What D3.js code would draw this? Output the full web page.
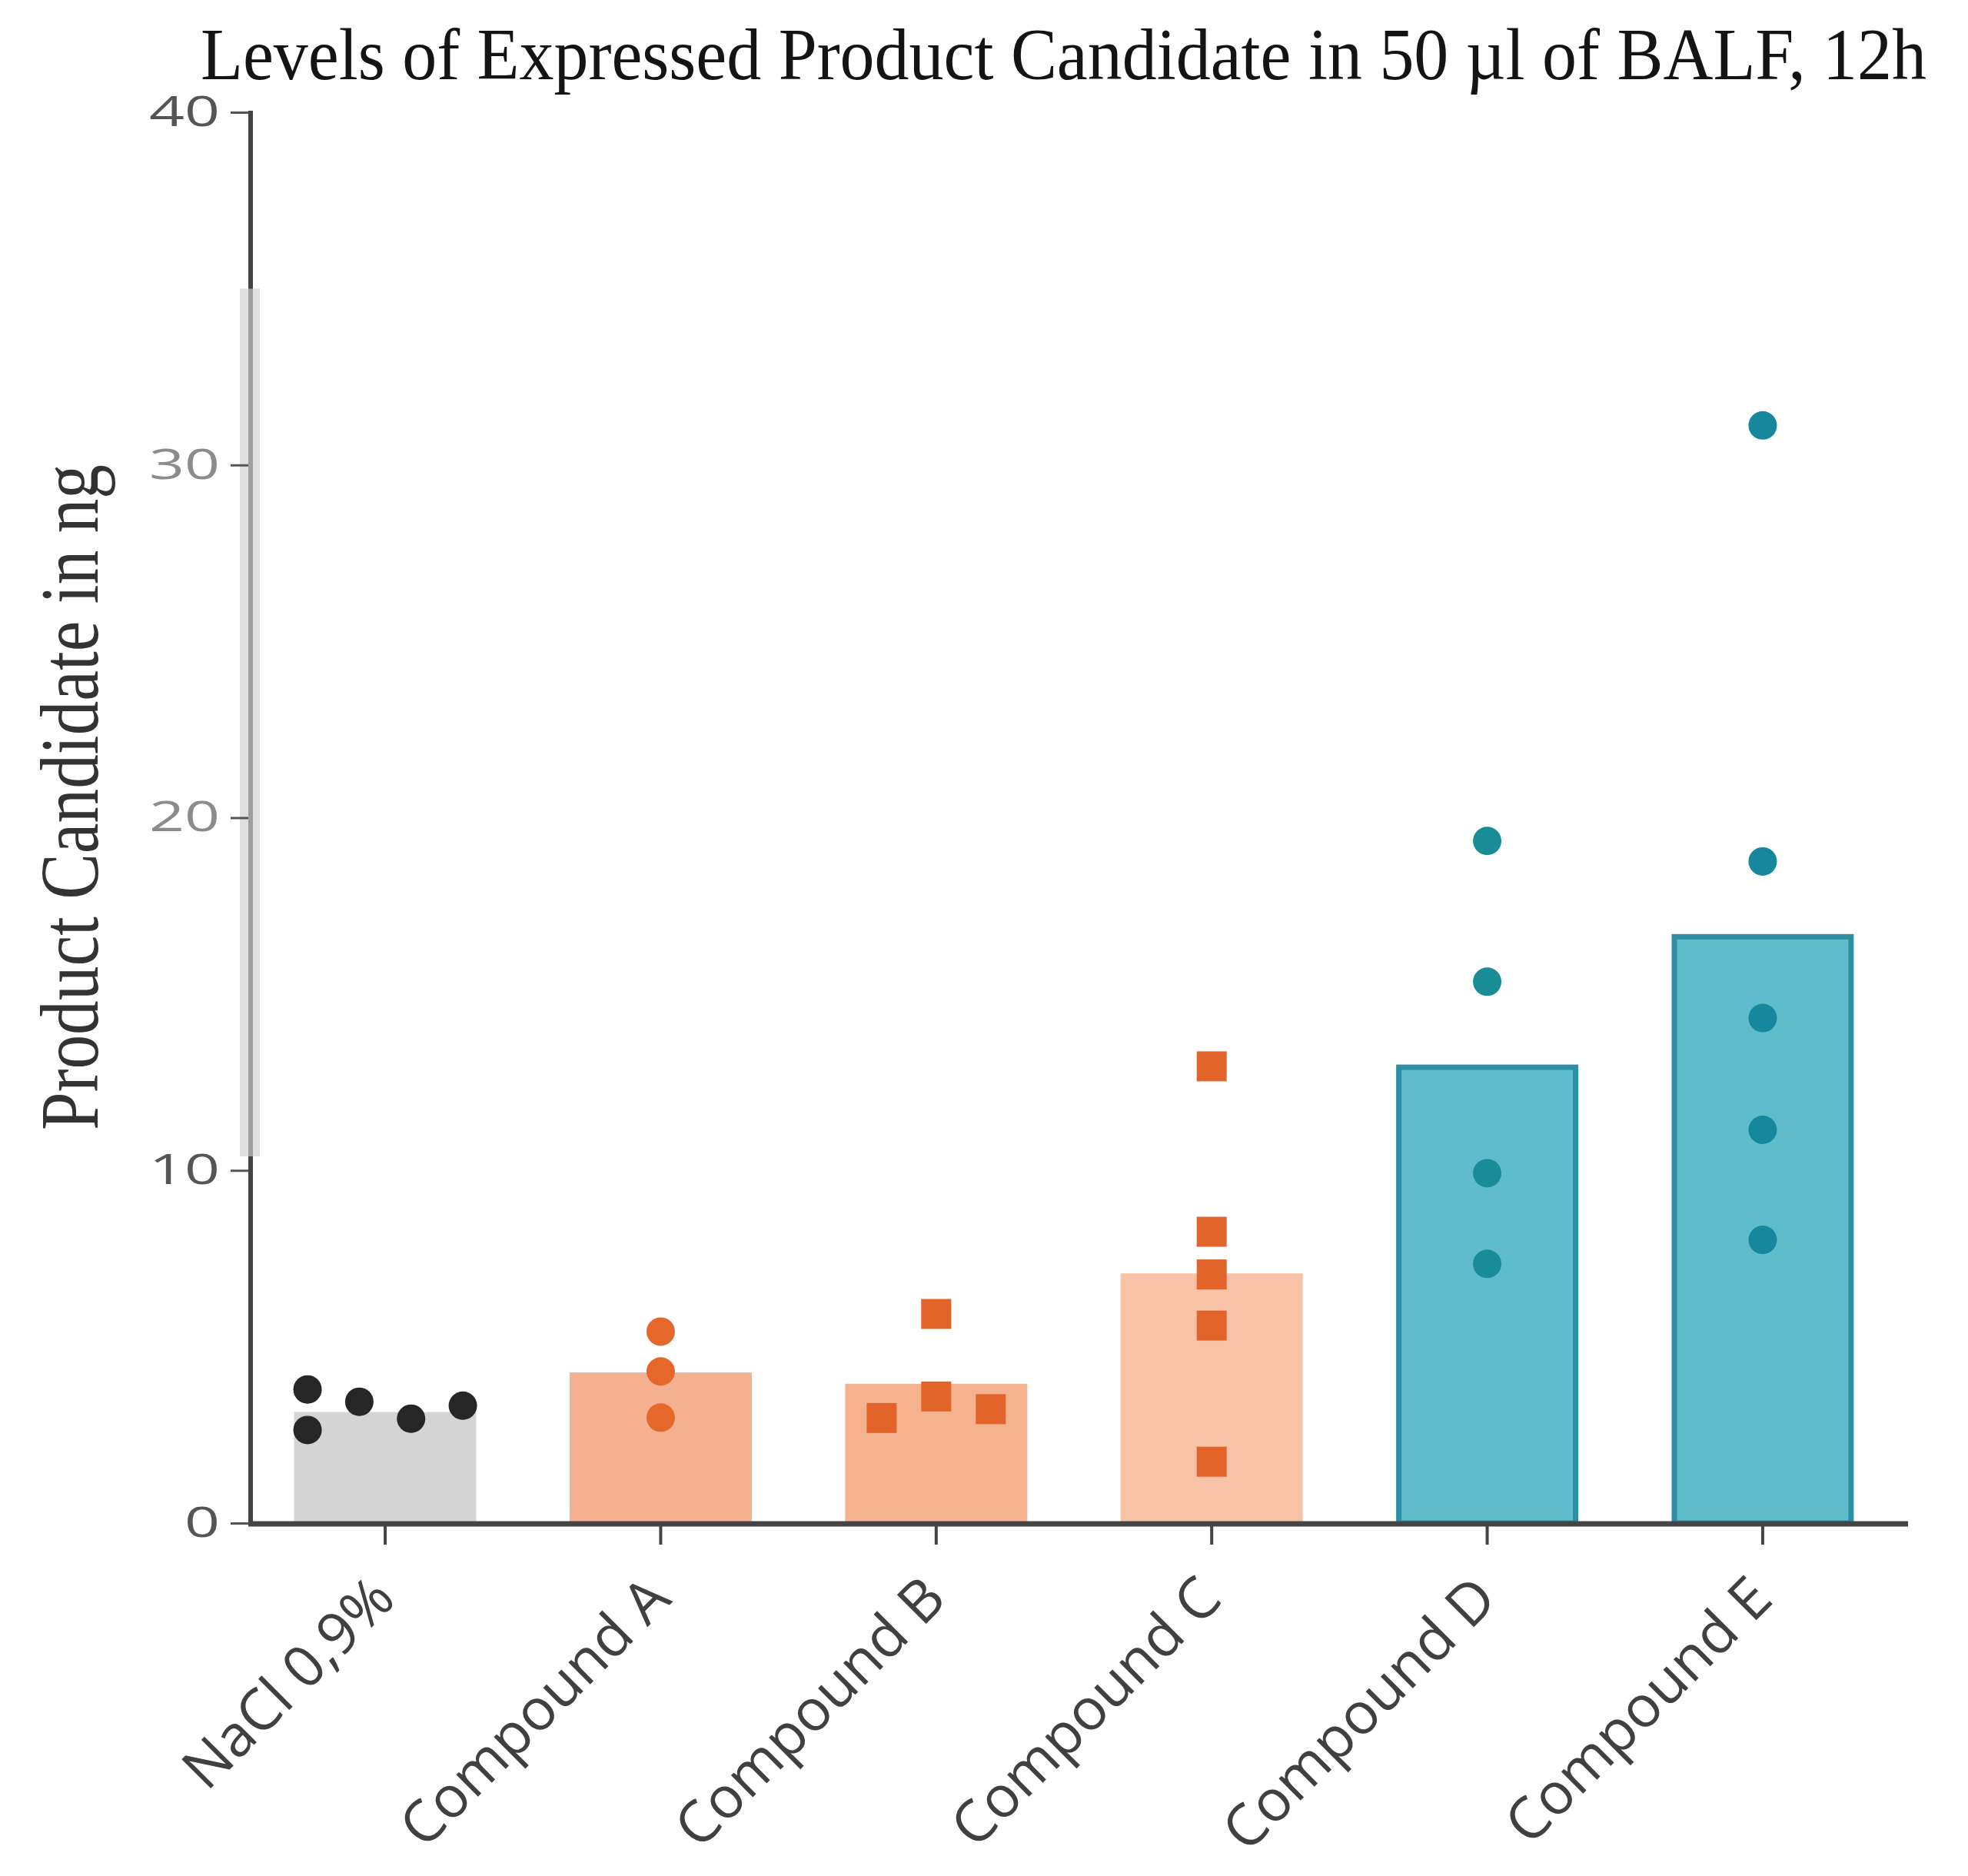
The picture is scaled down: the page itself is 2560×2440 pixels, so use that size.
<!DOCTYPE html>
<html>
<head>
<meta charset="utf-8">
<script src="https://cdn.jsdelivr.net/npm/d3@7"></script>
<style>
  html, body { margin: 0; padding: 0; background: #ffffff; }
  svg { display: block; }
</style>
</head>
<body>
<svg id="chart" width="2560" height="2440"></svg>
<script>
// ---------------- data ----------------
const title = "Levels of Expressed Product Candidate in 50 µl of BALF, 12h";
const yTitle = "Product Candidate in ng";
const categories = ["NaCl 0,9%", "Compound A", "Compound B", "Compound C", "Compound D", "Compound E"];
const barMeans = [3.15, 4.27, 3.95, 7.08, 13.0, 16.7];
// individual measurements; each inner array is one column of stacked points (left to right)
const naclPoints = [[3.79, 2.64], [3.44], [2.96], [3.33]];
const compoundAPoints = [[5.43, 4.30, 2.99]];
const compoundBPoints = [[2.98], [5.93, 3.59], [3.23]];
const compoundCPoints = [[12.95, 8.26, 7.05, 5.60, 1.74]];
const compoundDPoints = [[19.34, 15.35, 9.92, 7.35]];
const compoundEPoints = [[31.12, 18.76, 14.32, 11.15, 8.03]];
const yTicks = [0, 10, 20, 30, 40];

// ---------------- styles ----------------
const groups = [
  { pts: naclPoints,      shape: "circle", bar: "#d4d4d4", stroke: null,      dot: "#262626" },
  { pts: compoundAPoints, shape: "circle", bar: "#f4b08f", stroke: null,      dot: "#e6672c" },
  { pts: compoundBPoints, shape: "square", bar: "#f4b28f", stroke: null,      dot: "#e3642b" },
  { pts: compoundCPoints, shape: "square", bar: "#f7c2a5", stroke: null,      dot: "#e3642b" },
  { pts: compoundDPoints, shape: "circle", bar: "#5fbdcb", stroke: "#2d8ea5", dot: "#1a8c96" },
  { pts: compoundEPoints, shape: "circle", bar: "#5fbdcb", stroke: "#2d8ea5", dot: "#17879d" }
];

const svg = d3.select("#chart");
svg.append("rect").attr("width", 2560).attr("height", 2440).attr("fill", "#fff");

const x = d3.scaleBand().domain(categories).range([326, 2468])
  .paddingInner(0.339).paddingOuter(0.158);
const y = d3.scaleLinear().domain([0, 40]).range([1981, 146]);

const axisColor = "#444";

// ---------------- bars ----------------
const barData = categories.map((c, i) => ({ c, v: barMeans[i], g: groups[i] }));
svg.append("g").selectAll("rect").data(barData).join("rect")
  .attr("x", d => x(d.c) + (d.g.stroke ? 3.5 : 0))
  .attr("width", d => x.bandwidth() - (d.g.stroke ? 7 : 0))
  .attr("y", d => y(d.v) + (d.g.stroke ? 3.5 : 0))
  .attr("height", d => y(0) - y(d.v) - (d.g.stroke ? 3.5 : 0))
  .attr("fill", d => d.g.bar)
  .attr("stroke", d => d.g.stroke || "none")
  .attr("stroke-width", 7);

// ---------------- y axis ----------------
// faint grey band artefact beside the axis
svg.append("rect").attr("x", 312).attr("y", y(35)).attr("width", 26)
  .attr("height", y(10.4) - y(35)).attr("fill", "#e0e0e0");

const yAxis = svg.append("g").attr("transform", "translate(326,0)")
  .call(d3.axisLeft(y).tickValues(yTicks).tickSize(26).tickPadding(14).tickSizeOuter(0));
yAxis.select(".domain").remove();
yAxis.append("line").attr("x1", 0).attr("x2", 0).attr("y1", y(40) - 2).attr("y2", y(0) + 4)
  .attr("stroke", axisColor).attr("stroke-width", 6);
yAxis.append("line").attr("x1", 0).attr("x2", 0).attr("y1", y(35)).attr("y2", y(10.4))
  .attr("stroke", "#a0a0a0").attr("stroke-width", 6);
yAxis.selectAll(".tick line").attr("stroke", "#555").attr("stroke-width", 3);
yAxis.selectAll(".tick text")
  .attr("font-family", "'Open Sans', sans-serif")
  .attr("font-size", 54)
  .attr("fill", d => (d === 20 || d === 30) ? "#8c8c8c" : "#555")
  .attr("textLength", d => String(d).length * 46)
  .attr("lengthAdjust", "spacingAndGlyphs");

// ---------------- x axis ----------------
const xAxis = svg.append("g").attr("transform", `translate(0,${y(0)})`)
  .call(d3.axisBottom(x).tickSize(28).tickFormat(""));
xAxis.select(".domain").remove();
xAxis.append("line").attr("x1", 323).attr("x2", 2482).attr("y1", 1).attr("y2", 1)
  .attr("stroke", axisColor).attr("stroke-width", 7);
xAxis.selectAll(".tick line").attr("stroke", axisColor).attr("stroke-width", 4);

svg.append("g").selectAll("text").data(categories).join("text")
  .attr("transform", d => `translate(${x(d) + x.bandwidth() / 2 + 16},${y(0) + 102}) rotate(-45)`)
  .attr("text-anchor", "end")
  .attr("font-family", "'Open Sans', sans-serif")
  .attr("font-size", 75)
  .attr("fill", "#404040")
  .text(d => d);

// ---------------- points ----------------
const pointData = [];
groups.forEach((g, gi) => {
  const size = g.shape === "circle" ? 37 : 39;
  const spacing = size * 1.82;
  const n = g.pts.length;
  g.pts.forEach((col, ci) => {
    col.forEach(v => {
      pointData.push({
        cx: x(categories[gi]) + x.bandwidth() / 2 + (ci - (n - 1) / 2) * spacing,
        v, shape: g.shape, color: g.dot, size
      });
    });
  });
});
const pg = svg.append("g");
pg.selectAll("circle").data(pointData.filter(d => d.shape === "circle")).join("circle")
  .attr("cx", d => d.cx).attr("cy", d => y(d.v)).attr("r", d => d.size / 2)
  .attr("fill", d => d.color);
pg.selectAll("rect").data(pointData.filter(d => d.shape === "square")).join("rect")
  .attr("x", d => d.cx - d.size / 2).attr("y", d => y(d.v) - d.size / 2)
  .attr("width", d => d.size).attr("height", d => d.size)
  .attr("fill", d => d.color);

// ---------------- titles ----------------
svg.append("text")
  .attr("transform", "translate(261,103) scale(1,1.12)")
  .attr("font-family", "'Liberation Serif', 'Times New Roman', serif")
  .attr("font-size", 86)
  .attr("fill", "#141414")
  .attr("textLength", 2245)
  .attr("lengthAdjust", "spacingAndGlyphs")
  .text(title);

svg.append("text")
  .attr("transform", "translate(127,1470) rotate(-90)")
  .attr("font-family", "'Liberation Serif', 'Times New Roman', serif")
  .attr("font-size", 108)
  .attr("fill", "#333")
  .attr("textLength", 866)
  .attr("lengthAdjust", "spacingAndGlyphs")
  .text(yTitle);
</script>
</body>
</html>
